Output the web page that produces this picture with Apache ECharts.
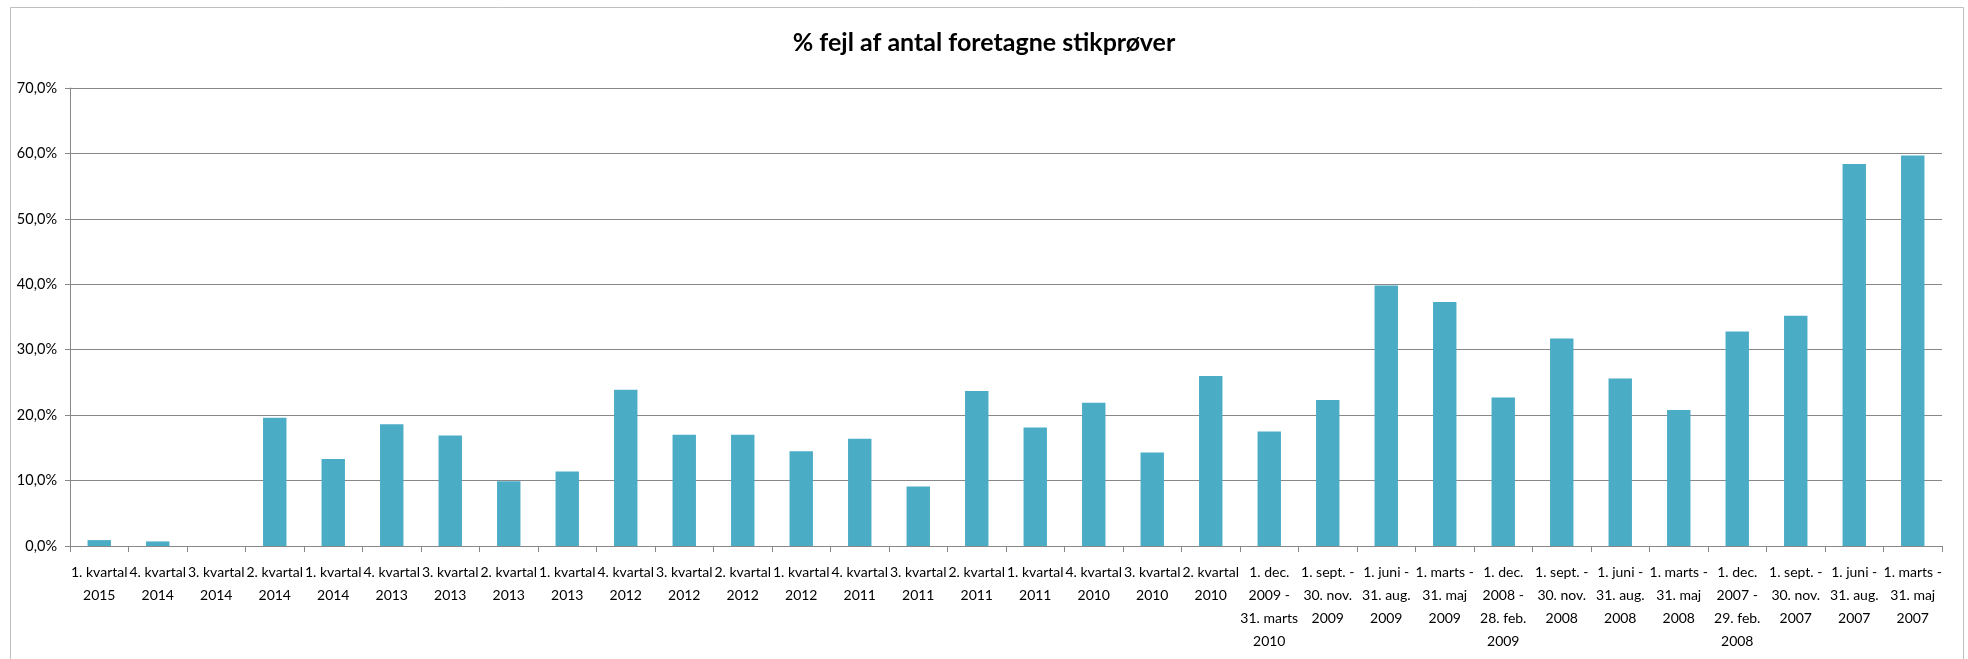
<!DOCTYPE html>
<html>
<head>
<meta charset="utf-8">
<script src="https://cdn.jsdelivr.net/npm/echarts@6/dist/echarts.min.js"></script>
<style>
html,body{margin:0;padding:0;background:#fff;}
#chart{width:1968px;height:659px;}
</style>
</head>
<body>
<div id="chart"></div>
<script>
const titleText = '% fejl af antal foretagne stikprøver';
const categories = [
  '1. kvartal\n2015', '4. kvartal\n2014', '3. kvartal\n2014', '2. kvartal\n2014',
  '1. kvartal\n2014', '4. kvartal\n2013', '3. kvartal\n2013', '2. kvartal\n2013',
  '1. kvartal\n2013', '4. kvartal\n2012', '3. kvartal\n2012', '2. kvartal\n2012',
  '1. kvartal\n2012', '4. kvartal\n2011', '3. kvartal\n2011', '2. kvartal\n2011',
  '1. kvartal\n2011', '4. kvartal\n2010', '3. kvartal\n2010', '2. kvartal\n2010',
  '1. dec.\n2009 -\n31. marts\n2010', '1. sept. -\n30. nov.\n2009', '1. juni -\n31. aug.\n2009',
  '1. marts -\n31. maj\n2009', '1. dec.\n2008 -\n28. feb.\n2009', '1. sept. -\n30. nov.\n2008',
  '1. juni -\n31. aug.\n2008', '1. marts -\n31. maj\n2008', '1. dec.\n2007 -\n29. feb.\n2008',
  '1. sept. -\n30. nov.\n2007', '1. juni -\n31. aug.\n2007', '1. marts -\n31. maj\n2007'
];
const values = [
  0.9, 0.7, 0, 19.6, 13.3, 18.6, 16.9, 9.9, 11.4, 23.9, 17.0, 17.0,
  14.5, 16.4, 9.1, 23.7, 18.1, 21.9, 14.3, 26.0, 17.5, 22.3, 39.8, 37.3,
  22.7, 31.7, 25.6, 20.8, 32.8, 35.2, 58.4, 59.7
];
const yMin = 0, yMax = 70, yStep = 10;

const FONT = "Lato, 'Liberation Sans', sans-serif";
const chart = echarts.init(document.getElementById('chart'));
chart.setOption({
  animation: false,
  backgroundColor: '#ffffff',
  title: {
    text: titleText,
    left: 'center',
    top: 25,
    textStyle: { fontFamily: FONT, fontSize: 25, fontWeight: 'bold', color: '#000' }
  },
  graphic: [{
    type: 'rect',
    shape: { x: 10.5, y: 7.5, width: 1953, height: 660 },
    style: { fill: 'none', stroke: '#bfbfbf', lineWidth: 1 },
    silent: true, z: -1
  }],
  grid: { left: 70, right: 26, top: 88, bottom: 113, containLabel: false },
  xAxis: {
    type: 'category',
    data: categories,
    axisLine: { show: true, lineStyle: { color: '#888888', width: 1 } },
    axisTick: { show: true, length: 6, alignWithLabel: false, lineStyle: { color: '#888888' } },
    axisLabel: {
      interval: 0, margin: 15, fontFamily: FONT, fontSize: 14, lineHeight: 23,
      color: '#000', align: 'center'
    }
  },
  yAxis: {
    type: 'value',
    min: yMin, max: yMax, interval: yStep,
    axisLine: { show: true, lineStyle: { color: '#888888', width: 1 } },
    axisTick: { show: true, length: 5, lineStyle: { color: '#888888' } },
    splitLine: { show: true, lineStyle: { color: '#888888', width: 1 } },
    axisLabel: {
      fontFamily: FONT, fontSize: 14.5, color: '#000', margin: 13,
      formatter: v => v.toFixed(1).replace('.', ',') + '%'
    }
  },
  series: [{
    type: 'bar',
    data: values,
    barWidth: '40%',
    itemStyle: { color: '#4bacc6' }
  }]
});
</script>
</body>
</html>
